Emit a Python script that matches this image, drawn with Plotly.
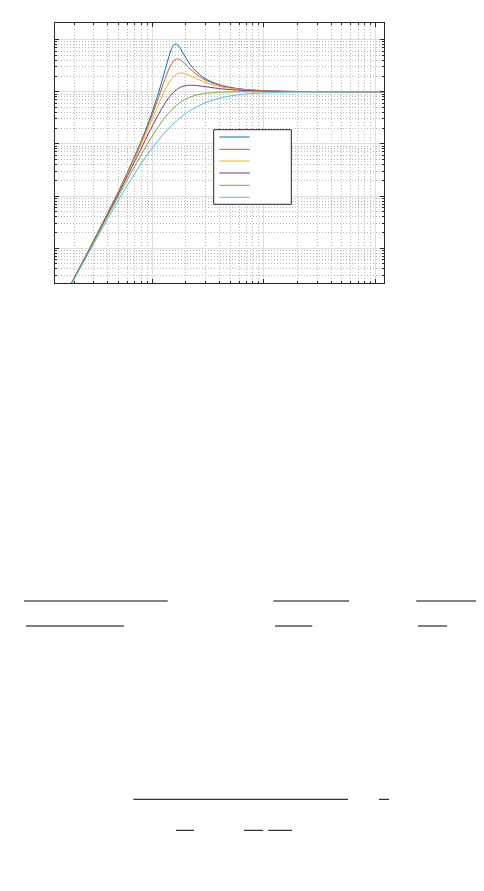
import plotly.graph_objects as go

# ---- data (log-log magnitude curves) ----
freq = [0.126, 0.236, 0.393, 0.550, 0.785, 0.942, 1.099, 1.256, 1.335, 1.413, 1.492,
        1.570, 1.649, 1.727, 1.806, 1.884, 2.041, 2.198, 2.512, 2.826, 3.140, 3.925,
        4.710, 6.280, 9.420, 15.70, 31.40, 62.80, 119.3]

mag_1 = [4.15e-5, 5.28e-4, 0.00441, 0.0191, 0.1053, 0.2851, 0.7472, 1.954, 3.120, 4.777, 6.659,
         8.000, 8.195, 7.495, 6.494, 5.550, 4.155, 3.293, 2.380, 1.936, 1.684, 1.378,
         1.244, 1.128, 1.054, 1.019, 1.0047, 1.0012, 1.0003]
mag_2 = [4.14e-5, 5.27e-4, 0.00437, 0.01874, 0.1000, 0.2594, 0.6276, 1.414, 2.026, 2.750, 3.464,
         4.000, 4.248, 4.224, 4.024, 3.746, 3.178, 2.722, 2.132, 1.801, 1.600, 1.341,
         1.223, 1.118, 1.050, 1.0177, 1.0044, 1.0011, 1.0003]
mag_3 = [4.14e-5, 5.24e-4, 0.00429, 0.01805, 0.0909, 0.2198, 0.4754, 0.9110, 1.191, 1.487, 1.768,
         2.000, 2.164, 2.256, 2.286, 2.270, 2.162, 2.020, 1.765, 1.582, 1.455, 1.273,
         1.183, 1.099, 1.043, 1.0151, 1.0038, 1.0009, 1.0003]
mag_4 = [4.12e-5, 5.18e-4, 0.00415, 0.01681, 0.0769, 0.1684, 0.3201, 0.5322, 0.6529, 0.7754, 0.8931,
         1.000, 1.092, 1.168, 1.226, 1.269, 1.319, 1.333, 1.312, 1.271, 1.231, 1.155,
         1.110, 1.062, 1.028, 1.010, 1.0025, 1.0006, 1.0002]
mag_5 = [4.10e-5, 5.06e-4, 0.00389, 0.01478, 0.0588, 0.1147, 0.1936, 0.2906, 0.3430, 0.3962, 0.4489,
         0.5000, 0.5486, 0.5942, 0.6362, 0.6747, 0.7407, 0.7935, 0.8676, 0.9130, 0.9412, 0.9750,
         0.9878, 0.9961, 0.9992, 0.9999, 1.0000, 1.0000, 1.0000]
mag_6 = [4.04e-5, 4.84e-4, 0.00346, 0.01191, 0.0400, 0.0701, 0.1082, 0.1523, 0.1759, 0.2003, 0.2250,
         0.2500, 0.2750, 0.2998, 0.3243, 0.3483, 0.3947, 0.4385, 0.5171, 0.5839, 0.6400, 0.7432,
         0.8100, 0.8858, 0.9467, 0.9803, 0.9950, 0.9988, 0.9997]

series = [mag_1, mag_2, mag_3, mag_4, mag_5, mag_6]
colors = ["#0072BD", "#D95319", "#EDB120", "#7E2F8E", "#77AC30", "#4DBEEE"]

# ---- figure geometry (page pixels; the page body adds an 8px offset) ----
OFF = 8
W, H = 476, 875
PL, PR, PT, PB = 55, 384, 23, 283          # plot area in page pixels
L, T = PL - OFF, PT - OFF
R, B = W - (PR - OFF), H - (PB - OFF)
PW, PH = PR - PL, PB - PT


def px(xp):
    return (xp - PL) / PW


def py(yp):
    return (PB - yp) / PH


fig = go.Figure()
for ys, c in zip(series, colors):
    fig.add_trace(go.Scatter(x=freq, y=ys, mode="lines", line=dict(color=c, width=1, shape="spline"),
                             showlegend=False, hoverinfo="skip"))

axis_common = dict(
    type="log", showticklabels=False, ticks="inside", ticklen=4, tickcolor="#262626",
    dtick=1, showgrid=True, gridcolor="#dedede", gridwidth=1,
    showline=True, linecolor="#262626", linewidth=1, mirror="allticks", zeroline=False,
    minor=dict(ticks="inside", ticklen=2, tickcolor="#262626", dtick="D1",
               showgrid=True, gridcolor="#b8b8b8", griddash="1px,2px", gridwidth=1),
)

fig.update_layout(
    width=W, height=H, margin=dict(l=L, r=R, t=T, b=B),
    paper_bgcolor="white", plot_bgcolor="white",
    xaxis=dict(range=[-0.871, 2.077], **axis_common),
    yaxis=dict(range=[-3.668, 1.318], **axis_common),
)

shapes = []
# legend box (manual, compact like the original)
shapes.append(dict(type="rect", xref="paper", yref="paper", x0=px(213.7), x1=px(291.3),
                   y0=py(204.3), y1=py(129.7), line=dict(color="#262626", width=1),
                   fillcolor="white", layer="above"))
leg_y = [137, 149.3, 161, 173, 185.3, 197.3]
for yy, c in zip(leg_y, colors):
    shapes.append(dict(type="line", xref="paper", yref="paper", x0=px(219.3), x1=px(249.7),
                       y0=py(yy), y1=py(yy), line=dict(color=c, width=1), layer="above"))

# fraction bars of the equations below the chart
bars = [
    (601, 24, 167.7), (601, 273.3, 349), (601, 416.3, 484),
    (626, 26, 124), (626, 275, 312.3), (626, 418, 447),
    (799.3, 133.3, 348), (799.3, 379, 389),
    (830.3, 176, 194), (830.3, 244, 263.3), (830.3, 268.3, 292),
]
for yy, xa, xb in bars:
    shapes.append(dict(type="line", xref="paper", yref="paper", x0=px(xa), x1=px(xb),
                       y0=py(yy), y1=py(yy), line=dict(color="black", width=1)))

fig.update_layout(shapes=shapes)
fig.write_html("out.html")
